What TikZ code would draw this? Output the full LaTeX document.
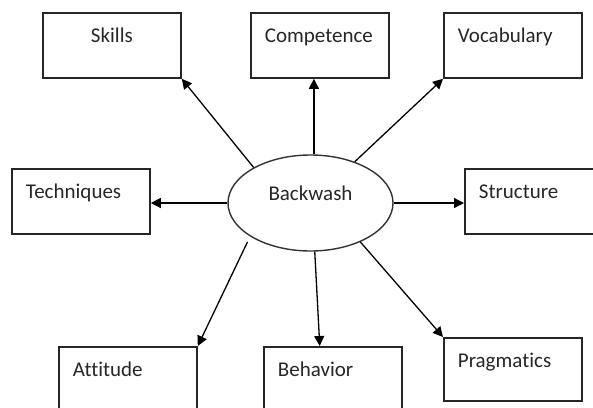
\documentclass[tikz,border=0pt]{standalone}
\usepackage{fontspec}
\setmainfont{Carlito}[Ligatures=NoCommon]
\usetikzlibrary{calc,arrows.meta,positioning,shapes.geometric}

\begin{document}
\begin{tikzpicture}[x=0.5pt,y=-0.5pt,->,>={Triangle[length=5pt,width=5pt]},line width=0.65pt,
  font=\fontsize{10.5}{12}\selectfont,text=black!85,
  box/.style={draw=black!85,rectangle,line width=0.9pt,anchor=north west,minimum width=69pt,minimum height=32.5pt,
    text width=55pt,inner xsep=7pt,inner ysep=0pt,text height=15pt,text depth=17.5pt,align=left},
  oval/.style={draw=black!80,ellipse,line width=0.7pt,minimum width=82.5pt,minimum height=48pt,
    inner sep=0pt,text height=8pt,text depth=11pt}]

  \useasboundingbox (0,0) rectangle (593,407);

  \node[oval] (0) at (310.5,203) {Backwash};
  \node[box,align=center] (1) at (42,12) {Skills};
  \node[box] (2) at (250,12) {Competence};
  \node[box] (3) at (443,12) {Vocabulary};
  \node[box] (4) at (11,168) {Techniques};
  \node[box] (5) at (464,168) {Structure};
  \node[box] (6) at (58,346) {Attitude};
  \node[box] (7) at (263,346) {Behavior};
  \node[box,minimum height=31.5pt,text depth=16.5pt] (8) at (443,337) {Pragmatics};

  \path (0.148) edge (1.south east)
        (0.86) edge (0.86 |- 2.south)
        (0.43) edge (3.south west)
        (0.west) edge (0.west -| 4.east)
        (0.east) edge (0.east -| 5.west)
        (0.209) edge [shorten <=3pt] (6.north east)
        (0.275) edge ($(7.north west)!0.406!(7.north east)$)
        (0.322) edge (8.north west);

\end{tikzpicture}
\end{document}
